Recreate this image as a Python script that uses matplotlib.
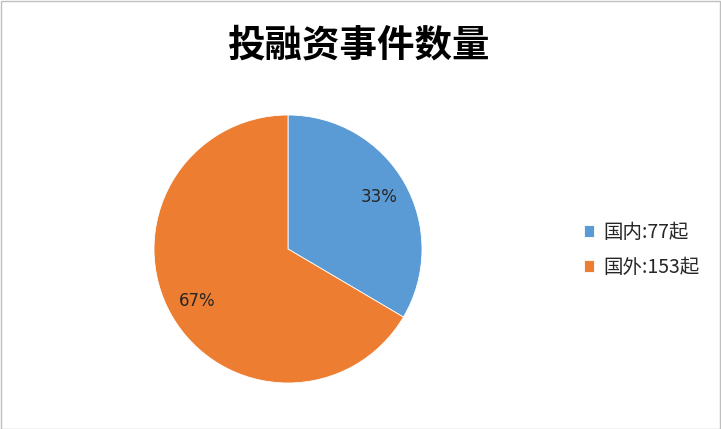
import matplotlib
matplotlib.use("Agg")
import matplotlib.pyplot as plt
from matplotlib.patches import Rectangle

title = "投融资事件数量"
categories = ["国内", "国外"]
values = [77, 153]
unit = "起"
colors = ["#5B9BD5", "#ED7D31"]

plt.rcParams['font.family'] = ['Noto Sans CJK SC', 'DejaVu Sans']

W, H = 721, 429
fig = plt.figure(figsize=(W / 100, H / 100), dpi=100)
fig.patch.set_facecolor("white")

cx, cy, r = 288, 249, 134
ax = fig.add_axes([(cx - r) / W, (H - cy - r) / H, 2 * r / W, 2 * r / H])
wedges, texts, autotexts = ax.pie(
    values, colors=colors, startangle=90, counterclock=False,
    autopct=lambda p: f"{p:.0f}%", pctdistance=0.78, radius=1.0,
    wedgeprops=dict(edgecolor="white", linewidth=0.6),
    textprops=dict(fontsize=12, color="#262626",
                   family=['Liberation Sans Narrow', 'DejaVu Sans']))
ax.set_xlim(-1, 1)
ax.set_ylim(-1, 1)
ax.set_aspect("equal")
ax.axis("off")

fig.text(359 / W, 1 - 45 / H, title, ha="center", va="center",
         fontsize=27, fontweight="bold", color="black")

labels = [f"{c}:{v}{unit}" for c, v in zip(categories, values)]
leg = fig.legend(wedges, labels, loc="center left",
                 bbox_to_anchor=(566 / W, 1 - 250 / H),
                 frameon=False, fontsize=14, handlelength=0.55, handleheight=0.55,
                 handletextpad=0.45, labelspacing=0.7, labelcolor="#262626")

fig.patches.append(Rectangle((0.5 / W, 0.5 / H), 1 - 1.5 / W, 1 - 1.5 / H,
                             transform=fig.transFigure, fill=False,
                             edgecolor="#BFBFBF", linewidth=1))

fig.savefig("out.png", dpi=100)
